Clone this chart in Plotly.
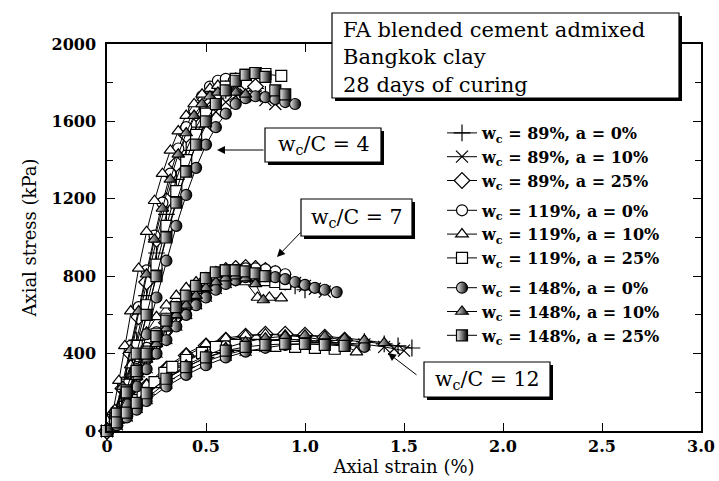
import plotly.graph_objects as go

# ---------------- data (axial strain %, axial stress kPa) ----------------
# each series: three curves -> w_c/C = 4, 7, 12
legend_labels = [
    "w<sub>c</sub> = 89%, a = 0%", "w<sub>c</sub> = 89%, a = 10%", "w<sub>c</sub> = 89%, a = 25%",
    "w<sub>c</sub> = 119%, a = 0%", "w<sub>c</sub> = 119%, a = 10%", "w<sub>c</sub> = 119%, a = 25%",
    "w<sub>c</sub> = 148%, a = 0%", "w<sub>c</sub> = 148%, a = 10%", "w<sub>c</sub> = 148%, a = 25%",
]

strain_w89_a0 = [
    [0, .05, .1, .15, .2, .25, .3, .35, .4, .45, .5, .55, .6, .65, .7, .75, .8],
    [0, .05, .1, .15, .2, .25, .3, .35, .4, .45, .5, .55, .6, .65, .7, .75, .8, .85, .9, .95, 1.0],
    [0, .05, .1, .15, .2, .3, .4, .5, .6, .7, .8, .9, 1.0, 1.1, 1.2, 1.3, 1.4, 1.47, 1.54],
]
stress_w89_a0 = [
    [0, 90, 260, 470, 700, 920, 1120, 1300, 1450, 1570, 1660, 1720, 1760, 1780, 1790, 1770, 1740],
    [0, 80, 180, 280, 370, 450, 520, 580, 630, 680, 720, 750, 775, 790, 800, 800, 795, 785, 770, 750, 730],
    [0, 40, 90, 140, 190, 270, 330, 380, 410, 435, 450, 460, 465, 468, 468, 462, 450, 440, 429],
]

strain_w89_a10 = [
    [0, .05, .1, .15, .2, .25, .3, .35, .4, .45, .5, .55, .6, .65, .7, .75, .8, .85],
    [0, .05, .1, .15, .2, .25, .3, .35, .4, .45, .5, .55, .6, .65, .7, .75, .8, .85, .9, .95, 1.0, 1.05, 1.1],
    [0, .05, .1, .15, .2, .3, .4, .5, .6, .7, .8, .9, 1.0, 1.1, 1.2, 1.3, 1.4, 1.45, 1.5],
]
stress_w89_a10 = [
    [0, 70, 210, 390, 600, 810, 1010, 1190, 1350, 1480, 1580, 1650, 1700, 1730, 1740, 1730, 1710, 1690],
    [0, 60, 150, 240, 330, 410, 480, 550, 610, 660, 700, 740, 770, 790, 805, 810, 805, 795, 780, 765, 750, 735, 720],
    [0, 35, 80, 125, 170, 250, 310, 360, 395, 420, 440, 450, 455, 458, 455, 448, 435, 425, 415],
]

strain_w89_a25 = [
    [0, .04, .08, .12, .16, .2, .25, .3, .35, .4, .45, .5, .55, .6, .65, .7, .75],
    [0, .05, .1, .15, .2, .25, .3, .35, .4, .45, .5, .55, .6, .65, .7, .75, .8, .85],
    [0, .05, .1, .15, .2, .3, .4, .5, .6, .7, .8, .9, 1.0, 1.1, 1.2],
]
stress_w89_a25 = [
    [0, 80, 220, 400, 590, 770, 990, 1190, 1380, 1530, 1640, 1720, 1770, 1800, 1810, 1800, 1780],
    [0, 90, 200, 310, 410, 490, 560, 630, 690, 740, 780, 810, 830, 840, 845, 840, 830, 815],
    [0, 50, 110, 170, 230, 320, 390, 440, 470, 490, 500, 500, 495, 485, 470],
]

strain_w119_a0 = [
    [0, .04, .08, .12, .16, .2, .24, .28, .32, .36, .4, .44, .48, .52, .56, .6, .64],
    [0, .05, .1, .15, .2, .25, .3, .35, .4, .45, .5, .55, .6, .65, .7, .75, .8, .85, .9],
    [0, .05, .1, .15, .2, .3, .4, .5, .6, .7, .8, .9, 1.0, 1.1, 1.2, 1.3],
]
stress_w119_a0 = [
    [0, 90, 250, 440, 640, 830, 1010, 1180, 1330, 1460, 1570, 1660, 1730, 1780, 1810, 1820, 1810],
    [0, 100, 220, 330, 430, 510, 580, 640, 690, 730, 765, 795, 815, 830, 840, 840, 835, 825, 810],
    [0, 50, 110, 165, 220, 300, 360, 410, 440, 460, 470, 475, 470, 460, 450, 440],
]

strain_w119_a10 = [
    [0, .03, .06, .09, .12, .16, .2, .24, .28, .32, .36, .4, .44, .48, .52, .56, .6, .65],
    [0, .04, .08, .12, .16, .2, .25, .3, .35, .4, .45, .5, .55, .6, .65, .7, .76, .82, .88],
    [0, .05, .1, .15, .2, .3, .4, .5, .6, .7, .8, .9, 1.0, 1.1, 1.2, 1.26],
]
stress_w119_a10 = [
    [0, 100, 260, 440, 620, 840, 1030, 1190, 1330, 1450, 1550, 1630, 1690, 1740, 1770, 1785, 1780, 1760],
    [0, 110, 230, 340, 430, 510, 590, 650, 700, 740, 770, 790, 800, 800, 790, 770, 690, 690, 687],
    [0, 55, 120, 180, 240, 330, 400, 450, 480, 495, 500, 495, 485, 470, 445, 408],
]

strain_w119_a25 = [
    [0, .05, .1, .15, .2, .25, .3, .35, .4, .45, .5, .55, .6, .65, .7, .75, .8, .88],
    [0, .05, .1, .15, .2, .25, .3, .35, .4, .45, .5, .55, .6, .65, .7, .75, .8, .85, .9],
    [0, .04, .09, .14, .18, .24, .29, .33, .4, .48, .55, .65, .75, .85, .95, 1.05, 1.15],
]
stress_w119_a25 = [
    [0, 80, 240, 440, 650, 860, 1060, 1240, 1400, 1530, 1640, 1720, 1780, 1820, 1840, 1850, 1845, 1835],
    [0, 90, 200, 310, 410, 500, 580, 640, 690, 740, 780, 810, 830, 830, 820, 800, 780, 770, 760],
    [0, 60, 124, 160, 186, 253, 300, 331, 367, 403, 434, 445, 445, 440, 435, 430, 425],
]

strain_w148_a0 = [
    [0, .05, .1, .15, .2, .25, .3, .35, .4, .45, .5, .55, .6, .65, .7, .75, .8, .85, .9, .95],
    [0, .05, .1, .15, .2, .25, .3, .35, .4, .45, .5, .55, .6, .65, .7, .75, .8, .85, .9, .95, 1.0, 1.05, 1.1, 1.16],
    [0, .05, .1, .15, .2, .3, .4, .5, .6, .7, .8, .9, 1.0, 1.1, 1.2, 1.3],
]
stress_w148_a0 = [
    [0, 60, 170, 320, 500, 690, 880, 1060, 1220, 1360, 1480, 1570, 1640, 1690, 1720, 1730, 1725, 1715, 1700, 1690],
    [0, 60, 140, 230, 320, 400, 470, 540, 600, 650, 690, 730, 760, 780, 795, 800, 800, 795, 785, 770, 755, 740, 730, 718],
    [0, 30, 70, 110, 155, 230, 290, 340, 380, 410, 430, 445, 450, 450, 445, 435],
]

strain_w148_a10 = [
    [0, .04, .08, .12, .16, .2, .24, .28, .32, .36, .4, .44, .48, .52, .56, .6, .65, .7],
    [0, .05, .1, .15, .2, .25, .3, .35, .4, .45, .5, .55, .6, .65, .7, .75, .79],
    [0, .05, .1, .15, .2, .3, .4, .5, .6, .7, .8, .9, 1.0, 1.1, 1.2, 1.3, 1.4],
]
stress_w148_a10 = [
    [0, 80, 230, 420, 620, 810, 990, 1150, 1300, 1430, 1540, 1630, 1690, 1730, 1750, 1760, 1750, 1740],
    [0, 80, 180, 280, 370, 450, 530, 600, 650, 700, 740, 770, 790, 800, 790, 760, 677],
    [0, 40, 90, 140, 190, 270, 340, 390, 430, 460, 480, 490, 495, 490, 480, 470, 455],
]

strain_w148_a25 = [
    [0, .05, .1, .15, .2, .25, .3, .35, .4, .45, .5, .55, .6, .65, .7, .75, .8, .85, .9],
    [0, .05, .1, .15, .2, .25, .3, .35, .4, .45, .5, .55, .6, .65, .7, .75, .8],
    [0, .05, .1, .15, .2, .3, .4, .5, .6, .7, .8, .9, 1.0, 1.1, 1.2],
]
stress_w148_a25 = [
    [0, 70, 210, 400, 600, 800, 1000, 1180, 1340, 1480, 1600, 1690, 1760, 1810, 1840, 1850, 1830, 1760, 1740],
    [0, 90, 200, 310, 400, 490, 570, 640, 700, 750, 790, 820, 830, 830, 825, 815, 800],
    [0, 45, 95, 145, 195, 270, 330, 380, 415, 435, 445, 450, 450, 445, 440],
]

x_tickvals = [0, 0.5, 1.0, 1.5, 2.0, 2.5, 3.0]
x_ticktext = ["0", "0.5", "1.0", "1.5", "2.0", "2.5", "3.0"]
y_tickvals = [0, 400, 800, 1200, 1600, 2000]
y_ticktext = ["0", "400", "800", "1200", "1600", "2000"]
y_minor_vals = [200, 600, 1000, 1400, 1800]

title_lines = ["FA blended cement admixed", "Bangkok clay", "28 days of curing"]
ratio_labels = ["w<sub>c</sub>/C = 4", "w<sub>c</sub>/C = 7", "w<sub>c</sub>/C = 12"]

all_strain = [strain_w89_a0, strain_w89_a10, strain_w89_a25, strain_w119_a0, strain_w119_a10,
              strain_w119_a25, strain_w148_a0, strain_w148_a10, strain_w148_a25]
all_stress = [stress_w89_a0, stress_w89_a10, stress_w89_a25, stress_w119_a0, stress_w119_a10,
              stress_w119_a25, stress_w148_a0, stress_w148_a10, stress_w148_a25]

# ---------------- styles ----------------
symbols = ["cross-thin", "x-thin", "diamond", "circle", "triangle-up", "square",
           "circle", "triangle-up", "square"]
sizes = [12, 12, 12, 11, 11, 11, 11, 11, 11]
half_filled = [False] * 6 + [True] * 3
groups = ["g89"] * 3 + ["g119"] * 3 + ["g148"] * 3
FONT = "DejaVu Serif"

fig = go.Figure()
for i in range(9):
    xs, ys = [], []
    for cs, cq in zip(all_strain[i], all_stress[i]):
        xs += list(cs) + [None]
        ys += list(cq) + [None]
    marker = dict(symbol=symbols[i], size=sizes[i], color="white",
                  line=dict(color="black", width=1.2))
    if half_filled[i]:
        marker["color"] = "#f0f0f0"
        marker["gradient"] = dict(type="horizontal", color="black")
    fig.add_trace(go.Scatter(
        x=xs, y=ys, mode="lines+markers", name=legend_labels[i],
        legendgroup=groups[i], line=dict(color="black", width=1),
        marker=marker, cliponaxis=False, connectgaps=False,
    ))

# plot area in pixels
L, R, T, B = 107, 701, 44, 431


def px(xp):
    return (xp - L) / (R - L)


def py(yp):
    return (B - yp) / (B - T)


shapes = []
annotations = []


def add_box(x0, y0, x1, y1, sh=3):
    shapes.append(dict(type="rect", xref="paper", yref="paper",
                       x0=px(x0 + sh), x1=px(x1 + sh), y0=py(y1 + sh), y1=py(y0 + sh),
                       fillcolor="black", line=dict(width=0), layer="above"))
    shapes.append(dict(type="rect", xref="paper", yref="paper",
                       x0=px(x0), x1=px(x1), y0=py(y1), y1=py(y0),
                       fillcolor="white", line=dict(color="black", width=1.2), layer="above"))


# title box
add_box(332, 13, 679, 98)
annotations.append(dict(text="<br>".join(title_lines), xref="paper", yref="paper",
                        x=px(341), y=py(57), xanchor="left", yanchor="middle", align="left",
                        showarrow=False, font=dict(family=FONT, size=21, color="black")))

# ratio label boxes
boxes = [(265, 128, 381, 162), (301, 199, 412, 236), (424, 362, 550, 397)]
for lab, (x0, y0, x1, y1) in zip(ratio_labels, boxes):
    add_box(x0, y0, x1, y1)
    annotations.append(dict(text=lab, xref="paper", yref="paper",
                            x=px((x0 + x1) / 2), y=py((y0 + y1) / 2),
                            xanchor="center", yanchor="middle", showarrow=False,
                            font=dict(family=FONT, size=20.5, color="black")))

# arrows (head -> tail offsets in px)
arrows = [((217, 150), (265, 150)), ((277, 257), (302, 231)), ((388, 353), (418, 376))]
for (hx, hy), (tx, ty) in arrows:
    annotations.append(dict(text="", xref="paper", yref="paper", x=px(hx), y=py(hy),
                            ax=tx - hx, ay=ty - hy, showarrow=True, arrowhead=2,
                            arrowsize=1.6, arrowwidth=1, arrowcolor="black"))

axis_common = dict(showline=True, linecolor="black", linewidth=1.5, mirror="ticks",
                   ticks="inside", tickcolor="black", ticklen=8, tickwidth=1,
                   showgrid=False, zeroline=False, automargin=False,
                   tickfont=dict(family=FONT, size=16, color="black", weight="bold"))

fig.update_layout(
    width=719, height=481,
    margin=dict(l=L, r=719 - R, t=T, b=481 - B, autoexpand=False),
    paper_bgcolor="white", plot_bgcolor="white",
    font=dict(family=FONT, color="black"),
    xaxis=dict(range=[0, 3], tickvals=x_tickvals, ticktext=x_ticktext,
               title=dict(text="Axial strain (%)", font=dict(family=FONT, size=18), standoff=4),
               **axis_common),
    yaxis=dict(range=[0, 2000], tickvals=y_tickvals, ticktext=y_ticktext,
               minor=dict(tickvals=y_minor_vals, ticks="inside", ticklen=6,
                          tickcolor="black"),
               title=dict(text="Axial stress (kPa)", font=dict(family=FONT, size=18), standoff=10),
               ticklabelstandoff=6,
               **axis_common),
    showlegend=True,
    legend=dict(x=px(442), y=py(116), xanchor="left", yanchor="top",
                bgcolor="rgba(0,0,0,0)", borderwidth=0, traceorder="grouped",
                tracegroupgap=6, font=dict(family=FONT, size=16, color="black", weight="bold"),
                itemwidth=30),
    shapes=shapes, annotations=annotations,
)

fig.write_html("out.html")
